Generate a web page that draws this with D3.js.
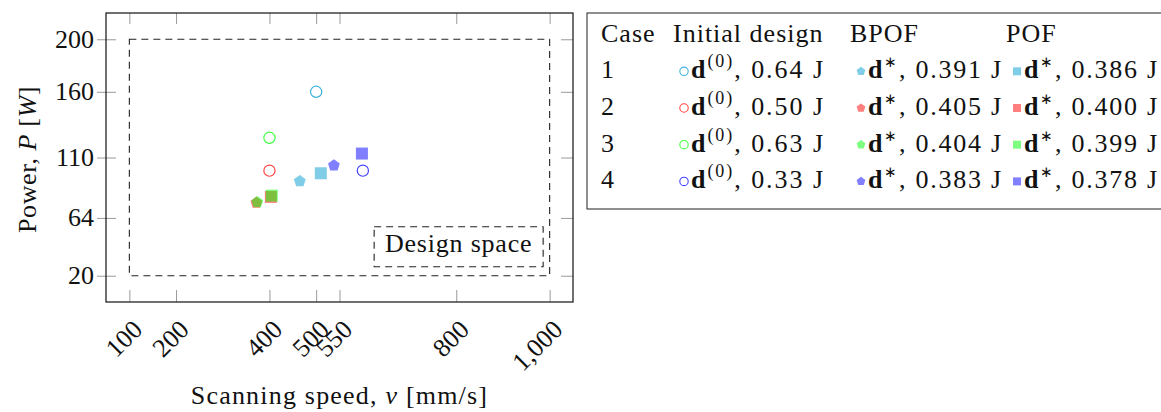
<!DOCTYPE html>
<html><head><meta charset="utf-8">
<script src="https://cdn.jsdelivr.net/npm/d3@7"></script>
<style>
body{margin:0;background:#fff}
text{font-family:"Liberation Serif","Times New Roman",serif;fill:#111}
</style>
</head><body>
<svg id="c" width="1161" height="412"></svg>
<script>
// ---------- data ----------
const cases = ["1","2","3","4"];
const caseColors = ["rgb(0,155,205)","rgb(255,0,0)","rgb(0,255,0)","rgb(0,0,255)"];
const initialV = [500,400,400,600];
const initialP = [160,100,125,100];
const initialEnergy = ["0.64","0.50","0.63","0.33"];
const bpofV = [465,372,374,538];
const bpofP = [92,75.5,76,104];
const bpofEnergy = ["0.391","0.405","0.404","0.383"];
const pofV = [510,403,405,598];
const pofP = [98,80,81,113];
const pofEnergy = ["0.386","0.400","0.399","0.378"];
const xTicks = [100,200,400,500,550,800,1000];
const yTicks = [20,64,110,160,200];
const designSpaceV = [100,1000];
const designSpaceP = [20,200];
const legendHeaders = ["Case","Initial design","BPOF","POF"];

// ---------- layout ----------
const svg = d3.select("#c");
const L = 106, R = 573, T = 13, B = 302;
const x = d3.scaleLinear().domain([50,1050]).range([L,R]);
const y = d3.scaleLinear().domain([0,220]).range([B,T]);
const FS = 26;

// pentagon symbol type
const symbolPentagon = {
  draw(ctx, size){
    const r = Math.sqrt(size/2.3776);
    for(let i=0;i<5;i++){
      const a = -Math.PI/2 + i*2*Math.PI/5;
      const px = r*Math.cos(a), py = r*Math.sin(a);
      if(i===0) ctx.moveTo(px,py); else ctx.lineTo(px,py);
    }
    ctx.closePath();
  }
};
const pentSize = r => 2.3776*r*r;

// ---------- axes ----------
const tickColor = "#9a9a9a";
const gB = svg.append("g").attr("transform",`translate(0,${B})`)
  .call(d3.axisBottom(x).tickValues(xTicks).tickSizeInner(-12).tickSizeOuter(0).tickFormat(d3.format(",")));
gB.select(".domain").remove();
gB.selectAll("line").attr("stroke",tickColor);
gB.selectAll("text").attr("x",0).attr("y",0).attr("dy",0)
  .attr("transform","translate(14,29) rotate(-45)")
  .attr("text-anchor","end").attr("font-size",FS)
  .attr("font-family",'"Liberation Serif",serif').attr("fill","#111");
const gT = svg.append("g").attr("transform",`translate(0,${T})`)
  .call(d3.axisTop(x).tickValues(xTicks).tickSizeInner(-11).tickSizeOuter(0).tickFormat(""));
gT.select(".domain").remove();
gT.selectAll("line").attr("stroke",tickColor);
const gL = svg.append("g").attr("transform",`translate(${L},0)`)
  .call(d3.axisLeft(y).tickValues(yTicks).tickSizeInner(9).tickSizeOuter(0).tickPadding(3));
gL.select(".domain").remove();
gL.selectAll("line").attr("stroke",tickColor);
gL.selectAll("text").attr("font-size",FS).attr("dy","0.31em")
  .attr("font-family",'"Liberation Serif",serif').attr("fill","#111");
const gL2 = svg.append("g").attr("transform",`translate(${L},0)`)
  .call(d3.axisLeft(y).tickValues(yTicks).tickSizeInner(-10).tickSizeOuter(0).tickFormat(""));
gL2.select(".domain").remove();
gL2.selectAll("line").attr("stroke",tickColor);
const gR = svg.append("g").attr("transform",`translate(${R},0)`)
  .call(d3.axisRight(y).tickValues(yTicks).tickSizeInner(-12).tickSizeOuter(0).tickFormat(""));
gR.select(".domain").remove();
gR.selectAll("line").attr("stroke",tickColor);

// frame
svg.append("rect").attr("x",L).attr("y",T).attr("width",R-L).attr("height",B-T)
  .attr("fill","none").attr("stroke","#111").attr("stroke-width",1.2);

// design space
svg.append("rect")
  .attr("x",x(designSpaceV[0])).attr("y",y(designSpaceP[1]))
  .attr("width",x(designSpaceV[1])-x(designSpaceV[0]))
  .attr("height",y(designSpaceP[0])-y(designSpaceP[1]))
  .attr("fill","none").attr("stroke","#222").attr("stroke-width",1.1)
  .attr("stroke-dasharray","7,5");
const dsRight = x(designSpaceV[1]) - 6.5, dsBottom = y(designSpaceP[0]) - 9;
svg.append("rect").attr("x",dsRight-169).attr("y",dsBottom-40).attr("width",169).attr("height",40)
  .attr("fill","#fff").attr("stroke","#222").attr("stroke-width",1.1).attr("stroke-dasharray","7,5");
svg.append("text").attr("x",dsRight-84.5).attr("y",dsBottom-15).attr("text-anchor","middle")
  .attr("font-size",FS).attr("letter-spacing",0.8).text("Design space");

// axis titles
const xt = svg.append("text").attr("x",(L+R)/2).attr("y",404).attr("text-anchor","middle")
  .attr("font-size",FS).attr("letter-spacing",1.2);
xt.append("tspan").text("Scanning speed, ");
xt.append("tspan").attr("font-style","italic").text("v");
xt.append("tspan").text(" [mm/s]");
const yt = svg.append("text").attr("transform",`translate(36,${(T+B)/2+2}) rotate(-90)`)
  .attr("text-anchor","middle").attr("font-size",FS).attr("letter-spacing",0.6);
yt.append("tspan").text("Power, ");
yt.append("tspan").attr("font-style","italic").text("P");
yt.append("tspan").text(" [");
yt.append("tspan").attr("font-style","italic").text("W");
yt.append("tspan").text("]");

// ---------- marks ----------
const plotR = 5.6, sq = 12, pentR = 6.2;
cases.forEach((c,i)=>{
  const col = caseColors[i];
  svg.append("path")
    .attr("transform",`translate(${x(initialV[i])},${y(initialP[i])})`)
    .attr("d",d3.symbol(d3.symbolCircle, Math.PI*plotR*plotR)())
    .attr("fill","none").attr("stroke",col).attr("stroke-width",1.2).attr("stroke-opacity",0.75);
  svg.append("path")
    .attr("transform",`translate(${x(bpofV[i])},${y(bpofP[i])})`)
    .attr("d",d3.symbol(symbolPentagon, pentSize(pentR))())
    .attr("fill",col).attr("opacity",0.5);
  svg.append("path")
    .attr("transform",`translate(${x(pofV[i])},${y(pofP[i])})`)
    .attr("d",d3.symbol(d3.symbolSquare, sq*sq)())
    .attr("fill",col).attr("opacity",0.5);
});

// ---------- legend ----------
const lg = svg.append("g");
lg.append("rect").attr("x",587).attr("y",13).attr("width",620).attr("height",196)
  .attr("fill","#fff").attr("stroke","#333").attr("stroke-width",1.1);
const headerX = [601,673,850,1006];
legendHeaders.forEach((h,j)=>{
  lg.append("text").attr("x",headerX[j]).attr("y",42).attr("font-size",FS)
    .attr("letter-spacing",1).text(h);
});
const rowY0 = 78.3, rowStep = 36.7;
const mk = [684,861,1017];
const entryW = [132,133,133];
function entry(xm, yb, kind, col, sup, energy, w){
  if(kind==="circle"){
    lg.append("path").attr("transform",`translate(${xm},${yb-7})`)
      .attr("d",d3.symbol(d3.symbolCircle, Math.PI*4.2*4.2)())
      .attr("fill","none").attr("stroke",col).attr("stroke-width",1.1).attr("stroke-opacity",0.75);
  } else if(kind==="pent"){
    lg.append("path").attr("transform",`translate(${xm},${yb-7})`)
      .attr("d",d3.symbol(symbolPentagon, pentSize(4.6))())
      .attr("fill",col).attr("opacity",0.5);
  } else {
    lg.append("path").attr("transform",`translate(${xm},${yb-7})`)
      .attr("d",d3.symbol(d3.symbolSquare, 8*8)())
      .attr("fill",col).attr("opacity",0.5);
  }
  const t = lg.append("text").attr("x",xm+7).attr("y",yb).attr("font-size",FS)
    .attr("textLength",w).attr("lengthAdjust","spacing");
  t.append("tspan").attr("font-weight","bold").text("d");
  if(sup==="(0)"){
    t.append("tspan").attr("font-size",18).attr("dy",-11).text("(0)");
    t.append("tspan").attr("dy",11).text(", " + energy + " J");
  } else {
    t.append("tspan").attr("font-size",15).attr("dy",-11).text("\u2217");
    t.append("tspan").attr("dy",11).text(", " + energy + " J");
  }
}
cases.forEach((c,i)=>{
  const yb = rowY0 + i*rowStep;
  lg.append("text").attr("x",headerX[0]).attr("y",yb).attr("font-size",FS).text(c);
  entry(mk[0], yb, "circle", caseColors[i], "(0)", initialEnergy[i], entryW[0]);
  entry(mk[1], yb, "pent", caseColors[i], "*", bpofEnergy[i], entryW[1]);
  entry(mk[2], yb, "square", caseColors[i], "*", pofEnergy[i], entryW[2]);
});
</script>
</body></html>
